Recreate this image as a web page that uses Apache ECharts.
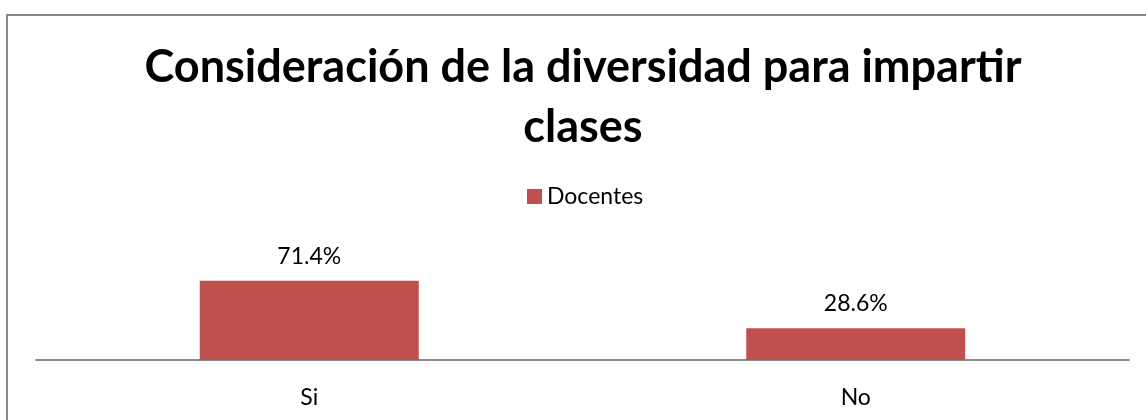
<!DOCTYPE html>
<html>
<head>
<meta charset="utf-8">
<script src="https://cdn.jsdelivr.net/npm/echarts@6/dist/echarts.min.js"></script>
<style>
  html, body { margin: 0; padding: 0; background: #fff; }
  #chart { width: 1146px; height: 420px; }
</style>
</head>
<body>
<div id="chart"></div>
<script>
var categories = ['Si', 'No'];
var docentes = [71.4, 28.6];
var seriesName = 'Docentes';
var titleText = 'Consideración de la diversidad para impartir\nclases';

var myChart = echarts.init(document.getElementById('chart'));

var option = {
    animation: false,
    textStyle: { fontFamily: 'Lato' },
    graphic: [{
        type: 'rect',
        shape: { x: 7, y: 15, width: 1200, height: 500 },
        style: { fill: 'none', stroke: '#878787', lineWidth: 2 },
        silent: true
    }],
    title: {
        text: titleText,
        left: 578,
        textAlign: 'center',
        top: 32,
        textStyle: {
            fontFamily: 'Lato',
            fontWeight: 'bold',
            fontSize: 45,
            lineHeight: 60,
            color: '#000'
        }
    },
    legend: {
        data: [seriesName],
        top: 180,
        left: 522,
        icon: 'rect',
        itemWidth: 15,
        itemHeight: 15,
        itemGap: 6,
        textStyle: { fontSize: 23, color: '#000', fontFamily: 'Lato' }
    },
    grid: { left: 36, right: 17, top: 249, bottom: 60 },
    xAxis: {
        type: 'category',
        data: categories,
        axisLine: { lineStyle: { color: '#8c8c8c', width: 2 } },
        axisTick: { show: false },
        axisLabel: { fontSize: 23, color: '#000', margin: 26, fontFamily: 'Lato' }
    },
    yAxis: {
        type: 'value',
        min: 0,
        max: 100,
        show: false
    },
    series: [{
        name: seriesName,
        type: 'bar',
        data: docentes,
        barWidth: 219,
        itemStyle: { color: '#c0504d' },
        label: {
            show: true,
            position: 'top',
            distance: 13,
            fontSize: 23,
            color: '#000',
            fontFamily: 'Lato',
            formatter: function (p) { return p.value.toFixed(1) + '%'; }
        }
    }]
};

myChart.setOption(option);
</script>
</body>
</html>
